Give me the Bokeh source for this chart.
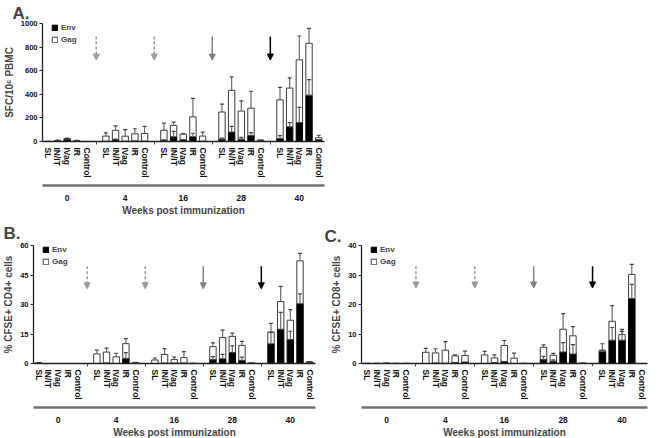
from bokeh.plotting import figure
from bokeh.models import (Range1d, FixedTicker, LinearAxis, Legend, LegendItem,
                          Arrow, NormalHead, Title, ColumnDataSource)
from bokeh.layouts import column, row
from bokeh.embed import file_html
from bokeh.resources import INLINE

FONT = "Liberation Sans"

weeks = ["0", "4", "16", "28", "40"]
routes = ["SL", "IN/IT", "IVag", "IR", "Control"]
arrow_styles = ["dashed", "dashed", "solid", "solid"]
arrow_colors = ["#9a9a9a", "#9a9a9a", "#808080", "#000000"]

# Panel A: SFC/10^6 PBMC (order: week, then route)
env_A = [0, 5, 20, 4, 0,
         2, 15, 3, 5, 3,
         10, 40, 15, 40, 3,
         20, 80, 20, 50, 10,
         25, 125, 160, 393, 15]
gag_A = [2, 3, 4, 3, 1,
         44, 80, 42, 60, 65,
         85, 96, 47, 169, 43,
         230, 354, 238, 232, 0,
         328, 328, 532, 439, 17]
env_err_A = [0, 0, 5, 0, 0,
             0, 5, 0, 0, 0,
             5, 45, 0, 30, 0,
             8, 48, 15, 25, 0,
             25, 35, 130, 132, 0]
tot_err_A = [0, 3, 5, 3, 0,
             27, 38, 55, 43, 60,
             60, 29, 6, 157, 33,
             67, 114, 87, 144, 2,
             105, 87, 202, 127, 21]

# Panel B: % CFSE+ CD4+ cells
env_B = [0.1, 0, 0, 0, 0,
         0, 0.3, 0, 2.6, 0.2,
         0, 0.2, 0.2, 0.2, 0,
         2.0, 2.4, 5.6, 1.6, 0.1,
         10.0, 17.4, 12.2, 30.4, 0.6]
gag_B = [0.2, 0, 0, 0, 0,
         4.9, 5.5, 3.4, 7.5, 0.2,
         1.8, 4.4, 1.8, 2.8, 0.2,
         6.6, 10.8, 8.2, 7.6, 0.2,
         6.0, 14.1, 9.8, 21.8, 0.2]
env_err_B = [0, 0, 0, 0, 0,
             0, 0, 0, 2.9, 0,
             0, 0, 0, 0, 0,
             1.5, 2.2, 3.4, 1.6, 0,
             5.8, 8.6, 4.2, 5.0, 0]
tot_err_B = [0.1, 0, 0, 0, 0,
             1.9, 2.0, 1.8, 2.5, 0.2,
             1.0, 3.0, 1.2, 3.0, 0,
             1.9, 3.8, 1.6, 2.0, 0,
             4.4, 7.7, 5.4, 3.8, 0.2]

# Panel C: % CFSE+ CD8+ cells
env_C = [0, 0, 0, 0, 0,
         0, 0.2, 0.1, 0.3, 0.5,
         0, 0.3, 0.7, 0, 0,
         1.4, 0.8, 3.9, 3.2, 0,
         4.0, 7.9, 7.9, 22.0, 0]
gag_C = [0.1, 0.1, 0.2, 0.1, 0.1,
         3.8, 3.4, 4.4, 2.3, 2.2,
         2.9, 1.6, 5.4, 1.8, 0.1,
         4.1, 2.0, 7.7, 6.2, 0.2,
         0.5, 6.4, 1.9, 8.2, 0]
env_err_C = [0, 0, 0, 0, 0,
             0, 0, 0, 0, 0,
             0, 0, 0, 0, 0,
             1.0, 0.4, 3.2, 3.2, 0,
             0.5, 4.3, 3.0, 4.8, 0]
tot_err_C = [0, 0, 0, 0, 0,
             1.3, 1.4, 2.9, 0.3, 1.5,
             1.2, 1.0, 1.7, 1.7, 0,
             0.8, 0.6, 5.3, 3.1, 0,
             2.2, 5.3, 1.8, 3.4, 0]

FRAME_H = 118


def make_panel(letter, ylabel, ymax, yticks, env, gag, env_err, tot_err,
               arrow_frac, frame_w, left, right, top, title_standoff):
    nr = len(routes)
    xs = [g * (nr + 1) + m for g in range(len(weeks)) for m in range(nr)]
    gaps = [g * (nr + 1) + nr for g in range(len(weeks) - 1)]
    centers = [g * (nr + 1) + (nr - 1) / 2 for g in range(len(weeks))]
    total = [e + g for e, g in zip(env, gag)]

    p = figure(frame_width=frame_w, frame_height=FRAME_H,
               x_range=Range1d(-0.55, len(weeks) * (nr + 1) - 1.4),
               y_range=Range1d(0, ymax),
               output_backend="svg", toolbar_location=None,
               min_border_left=left, min_border_right=right,
               min_border_top=top, min_border_bottom=0)
    p.outline_line_color = None
    p.xgrid.visible = False
    p.ygrid.visible = False
    p.background_fill_color = "white"
    p.border_fill_color = "white"

    src = ColumnDataSource(dict(x=xs, env=env, total=total))
    env_r = p.vbar(x="x", width=0.66, bottom=0, top="env", source=src,
                   fill_color="black", line_color="black", line_width=1)
    gag_r = p.vbar(x="x", width=0.66, bottom="env", top="total", source=src,
                   fill_color="white", line_color="#3a3a3a", line_width=1)

    # error bars (upper only)
    ex, ey0, ey1 = [], [], []
    for xi, base, err in list(zip(xs, env, env_err)) + list(zip(xs, total, tot_err)):
        if err > 0:
            ex.append(xi)
            ey0.append(base)
            ey1.append(base + err)
    esrc = ColumnDataSource(dict(x=ex, y0=ey0, y1=ey1,
                                 xl=[v - 0.2 for v in ex], xr=[v + 0.2 for v in ex]))
    p.segment(x0="x", x1="x", y0="y0", y1="y1", source=esrc,
              line_color="#6a6a6a", line_width=1.2)
    p.segment(x0="xl", x1="xr", y0="y1", y1="y1", source=esrc,
              line_color="#404040", line_width=1.2)

    # immunization arrows
    for gx, sty, col in zip(gaps, arrow_styles, arrow_colors):
        p.add_layout(Arrow(end=NormalHead(size=6, fill_color=col, line_color=col),
                           x_start=gx, x_end=gx,
                           y_start=arrow_frac[0] * ymax, y_end=arrow_frac[1] * ymax,
                           line_color=col, line_width=1.5,
                           line_dash="3 2" if sty == "dashed" else "solid"))

    # y axis
    ya = p.yaxis[0]
    ya.ticker = FixedTicker(ticks=yticks, minor_ticks=[])
    ya.axis_label = ylabel
    ya.axis_label_text_font = FONT
    ya.axis_label_text_font_style = "bold"
    ya.axis_label_text_font_size = "10px"
    ya.axis_label_standoff = 3
    ya.major_label_text_font = FONT
    ya.major_label_text_font_style = "bold"
    ya.major_label_text_font_size = "7.5px"
    ya.major_label_text_color = "#111111"
    ya.major_label_standoff = 2
    ya.major_tick_out = 3
    ya.major_tick_in = 0
    ya.axis_line_width = 1.3
    ya.axis_line_color = "#222222"
    ya.major_tick_line_color = "#222222"

    # category axis
    xa = p.xaxis[0]
    xa.ticker = FixedTicker(ticks=xs, minor_ticks=gaps)
    xa.major_label_overrides = {xi: routes[i % nr] for i, xi in enumerate(xs)}
    xa.major_label_orientation = "vertical"
    xa.major_label_text_font = FONT
    xa.major_label_text_font_style = "bold"
    xa.major_label_text_font_size = "8.5px"
    xa.major_label_text_color = "#111111"
    xa.major_label_standoff = 3
    xa.major_tick_out = 0
    xa.major_tick_in = 0
    xa.major_tick_line_color = None
    xa.minor_tick_out = 3
    xa.minor_tick_in = 0
    xa.minor_tick_line_color = "#444444"
    xa.axis_line_width = 1.3
    xa.axis_line_color = "#222222"
    xa.axis_label = " "
    xa.axis_label_text_font_size = "2px"
    xa.axis_label_standoff = 0

    # weeks axis
    wa = LinearAxis(ticker=FixedTicker(ticks=centers, minor_ticks=[]))
    wa.major_label_overrides = {c: w for c, w in zip(centers, weeks)}
    wa.major_label_text_font = FONT
    wa.major_label_text_font_style = "bold"
    wa.major_label_text_font_size = "8.5px"
    wa.major_label_text_color = "#111111"
    wa.major_label_standoff = 3
    wa.major_tick_line_color = None
    wa.minor_tick_line_color = None
    wa.axis_line_color = "#6f6f6f"
    wa.axis_line_width = 2.5
    wa.axis_label = "Weeks post immunization"
    wa.axis_label_text_font = FONT
    wa.axis_label_text_font_style = "bold"
    wa.axis_label_text_font_size = "10px"
    wa.axis_label_standoff = 1
    p.add_layout(wa, "below")

    # legend
    leg = Legend(items=[LegendItem(label="Env", renderers=[env_r]),
                        LegendItem(label="Gag", renderers=[gag_r])],
                 location=(9, FRAME_H - 21), orientation="vertical",
                 glyph_width=7, glyph_height=7, label_width=10, label_height=7,
                 label_standoff=3, spacing=3, padding=0, margin=0,
                 border_line_color=None, background_fill_alpha=0,
                 label_text_font=FONT, label_text_font_style="bold",
                 label_text_font_size="8px")
    p.add_layout(leg, "center")

    p.title = Title(text=letter, text_font=FONT, text_font_style="bold",
                    text_font_size="17px", align="left", offset=-left + 1,
                    standoff=title_standoff)
    return p


pA = make_panel("A.", "SFC/10\u2076 PBMC", 1000, [0, 200, 400, 600, 800, 1000],
                env_A, gag_A, env_err_A, tot_err_A, (0.89, 0.69),
                282, 31, 10, 22, 2)
pB = make_panel("B.", "% CFSE+ CD4+ cells", 60, [0, 15, 30, 45, 60],
                env_B, gag_B, env_err_B, tot_err_B, (0.825, 0.633),
                282, 31, 8, 27, 6)
pC = make_panel("C.", "% CFSE+ CD8+ cells", 40, [0, 10, 20, 30, 40],
                env_C, gag_C, env_err_C, tot_err_C, (0.825, 0.64),
                286, 38, 2, 27, 0)

layout = column(pA, row(pB, pC, spacing=0), spacing=0)

open("out.html", "w").write(file_html(layout, INLINE))
